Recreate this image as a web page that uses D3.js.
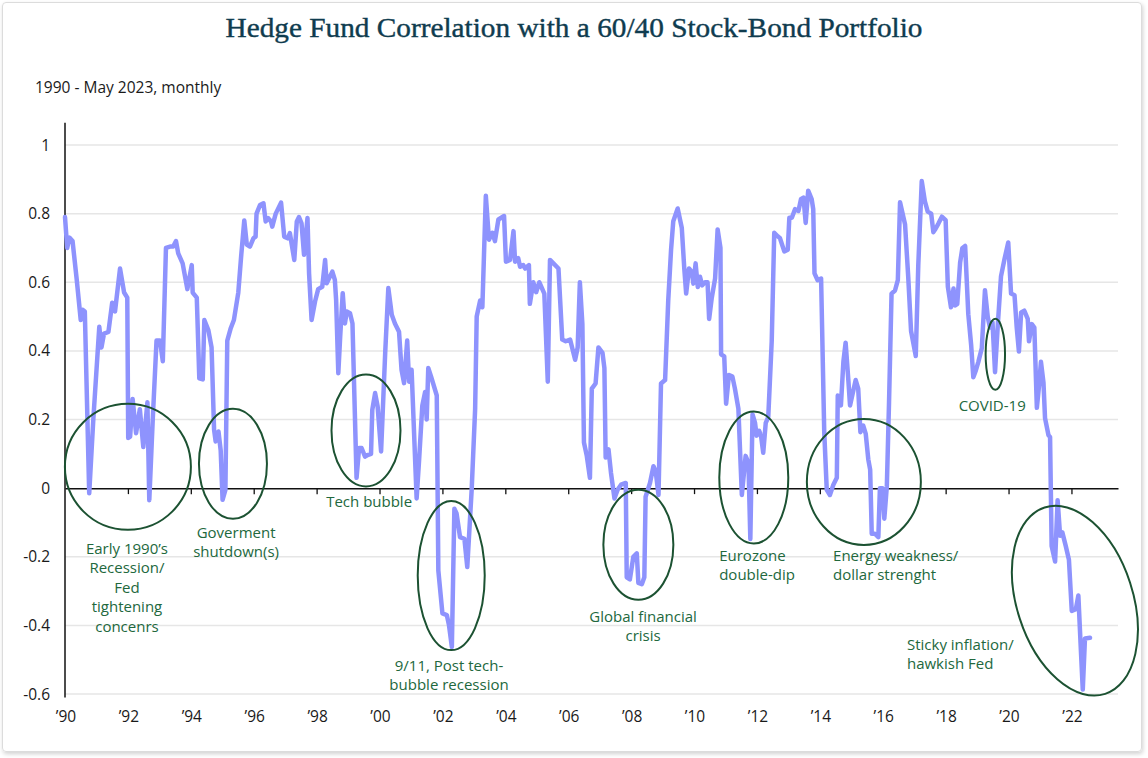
<!DOCTYPE html>
<html lang="en">
<head>
	<meta charset="utf-8">
	<title>Hedge Fund Correlation with a 60/40 Stock-Bond Portfolio</title>
	<script src='https://d3js.org/d3.v7.min.js'></script>
	<style>
	body {
		margin: 0;
		background: #ffffff;
	}
	#card {
		position: absolute;
		left: 2px;
		top: 2px;
		width: 1138px;
		height: 748px;
		border: 1px solid #dcdcdc;
		border-radius: 4px;
		box-shadow: 1px 2px 4px rgba(0,0,0,0.18);
	}
	svg {
		position: absolute;
		left: 0;
		top: 0;
	}
	</style>
</head>
<body>
	<div id="card"></div>
	<div id="chart"></div>
	<script>
		// Dates as decimal years (monthly series)
		const dates = [
			1990.00, 1990.07, 1990.14, 1990.24, 1990.37, 1990.50, 1990.56, 1990.63, 1990.77, 1990.90,
			1991.09, 1991.16, 1991.24, 1991.38, 1991.50, 1991.59, 1991.75, 1991.88, 1991.98, 1992.01,
			1992.07, 1992.15, 1992.26, 1992.38, 1992.49, 1992.62, 1992.68, 1992.79, 1992.91, 1993.02,
			1993.11, 1993.21, 1993.34, 1993.44, 1993.53, 1993.60, 1993.74, 1993.89, 1994.03, 1994.06,
			1994.19, 1994.27, 1994.38, 1994.43, 1994.56, 1994.66, 1994.74, 1994.79, 1994.88, 1994.95,
			1995.01, 1995.10, 1995.16, 1995.27, 1995.37, 1995.51, 1995.60, 1995.70, 1995.78, 1995.88,
			1995.99, 1996.06, 1996.09, 1996.20, 1996.31, 1996.38, 1996.46, 1996.55, 1996.59, 1996.70,
			1996.87, 1996.97, 1997.08, 1997.15, 1997.29, 1997.37, 1997.44, 1997.52, 1997.60, 1997.71,
			1997.76, 1997.84, 1997.95, 1998.05, 1998.18, 1998.27, 1998.32, 1998.39, 1998.50, 1998.58,
			1998.62, 1998.69, 1998.75, 1998.83, 1998.90, 1998.96, 1999.06, 1999.14, 1999.27, 1999.35,
			1999.43, 1999.54, 1999.64, 1999.73, 1999.77, 1999.86, 1999.94, 2000.05, 2000.18, 2000.28,
			2000.39, 2000.49, 2000.62, 2000.70, 2000.78, 2000.88, 2000.94, 2001.02, 2001.18, 2001.26,
			2001.36, 2001.45, 2001.50, 2001.55, 2001.64, 2001.82, 2001.87, 2002.00, 2002.14, 2002.21,
			2002.30, 2002.38, 2002.45, 2002.56, 2002.70, 2002.79, 2002.93, 2003.04, 2003.09, 2003.20,
			2003.27, 2003.38, 2003.48, 2003.59, 2003.67, 2003.78, 2003.96, 2004.02, 2004.15, 2004.26,
			2004.31, 2004.41, 2004.47, 2004.57, 2004.63, 2004.75, 2004.78, 2004.89, 2004.98, 2005.08,
			2005.24, 2005.35, 2005.42, 2005.53, 2005.69, 2005.81, 2005.92, 2006.06, 2006.22, 2006.30,
			2006.37, 2006.45, 2006.50, 2006.59, 2006.69, 2006.75, 2006.87, 2006.96, 2007.09, 2007.15,
			2007.19, 2007.28, 2007.36, 2007.47, 2007.57, 2007.68, 2007.83, 2007.86, 2007.96, 2008.07,
			2008.18, 2008.23, 2008.34, 2008.42, 2008.46, 2008.60, 2008.71, 2008.78, 2008.87, 2008.95,
			2009.08, 2009.18, 2009.27, 2009.34, 2009.48, 2009.61, 2009.69, 2009.75, 2009.84, 2009.93,
			2009.98, 2010.05, 2010.12, 2010.19, 2010.26, 2010.35, 2010.43, 2010.48, 2010.56, 2010.67,
			2010.75, 2010.84, 2010.86, 2010.96, 2011.02, 2011.11, 2011.22, 2011.30, 2011.41, 2011.52,
			2011.64, 2011.73, 2011.79, 2011.86, 2011.94, 2011.99, 2012.07, 2012.13, 2012.20, 2012.28,
			2012.36, 2012.47, 2012.55, 2012.66, 2012.73, 2012.87, 2012.98, 2013.03, 2013.11, 2013.21,
			2013.32, 2013.40, 2013.48, 2013.55, 2013.63, 2013.74, 2013.79, 2013.83, 2013.93, 2014.04,
			2014.14, 2014.22, 2014.32, 2014.43, 2014.54, 2014.57, 2014.67, 2014.75, 2014.82, 2014.91,
			2014.96, 2015.03, 2015.14, 2015.22, 2015.29, 2015.38, 2015.46, 2015.54, 2015.60, 2015.65,
			2015.75, 2015.86, 2015.91, 2015.99, 2016.05, 2016.13, 2016.20, 2016.28, 2016.39, 2016.48,
			2016.55, 2016.71, 2016.81, 2016.90, 2017.05, 2017.13, 2017.24, 2017.34, 2017.43, 2017.54,
			2017.61, 2017.68, 2017.77, 2017.88, 2018.00, 2018.07, 2018.17, 2018.25, 2018.30, 2018.37,
			2018.46, 2018.53, 2018.62, 2018.72, 2018.81, 2018.88, 2018.96, 2019.04, 2019.15, 2019.25,
			2019.34, 2019.41, 2019.49, 2019.57, 2019.66, 2019.76, 2019.87, 2019.99, 2020.08, 2020.19,
			2020.26, 2020.33, 2020.40, 2020.50, 2020.61, 2020.65, 2020.74, 2020.82, 2020.90, 2020.97,
			2021.03, 2021.11, 2021.16, 2021.27, 2021.32, 2021.37, 2021.48, 2021.56, 2021.64, 2021.71,
			2021.82, 2021.92, 2022.01, 2022.14, 2022.22, 2022.29, 2022.36, 2022.43, 2022.59
		];
		// Correlation values matching the dates above
		const correlation = [
			0.79, 0.70, 0.73, 0.72, 0.61, 0.49, 0.52, 0.515, -0.015, 0.20,
			0.47, 0.41, 0.45, 0.455, 0.54, 0.515, 0.64, 0.57, 0.555, 0.146,
			0.15, 0.26, 0.16, 0.23, 0.12, 0.25, -0.035, 0.20, 0.43, 0.43,
			0.37, 0.70, 0.704, 0.704, 0.72, 0.684, 0.655, 0.58, 0.65, 0.57,
			0.555, 0.32, 0.317, 0.49, 0.46, 0.41, 0.17, 0.136, 0.165, 0.11,
			-0.034, -0.005, 0.43, 0.466, 0.49, 0.57, 0.675, 0.78, 0.71, 0.704,
			0.728, 0.733, 0.80, 0.825, 0.83, 0.777, 0.787, 0.777, 0.762, 0.80,
			0.832, 0.733, 0.728, 0.743, 0.665, 0.777, 0.79, 0.772, 0.68, 0.787,
			0.626, 0.49, 0.544, 0.58, 0.587, 0.665, 0.597, 0.61, 0.631, 0.607,
			0.549, 0.335, 0.442, 0.568, 0.48, 0.515, 0.51, 0.48, 0.03, 0.117,
			0.117, 0.092, 0.097, 0.10, 0.228, 0.277, 0.238, 0.107, 0.393, 0.583,
			0.505, 0.48, 0.456, 0.345, 0.306, 0.43, 0.31, 0.345, -0.03, 0.084,
			0.24, 0.28, 0.20, 0.35, 0.325, 0.27, -0.24, -0.365, -0.37, -0.40,
			-0.463, -0.06, -0.074, -0.143, -0.148, -0.23, -0.005, 0.23, 0.50, 0.547,
			0.527, 0.852, 0.724, 0.744, 0.72, 0.783, 0.793, 0.66, 0.665, 0.749,
			0.66, 0.67, 0.645, 0.65, 0.64, 0.65, 0.537, 0.60, 0.571, 0.60,
			0.567, 0.31, 0.665, 0.655, 0.64, 0.433, 0.428, 0.433, 0.374, 0.41,
			0.60, 0.478, 0.133, 0.094, 0.03, 0.29, 0.305, 0.41, 0.394, 0.35,
			0.089, 0.113, 0.044, -0.03, -0.005, 0.01, 0.015, -0.26, -0.266, -0.20,
			-0.19, -0.276, -0.28, -0.26, -0.025, 0.015, 0.064, 0.05, -0.02, 0.305,
			0.315, 0.547, 0.695, 0.778, 0.815, 0.759, 0.64, 0.567, 0.64, 0.63,
			0.596, 0.655, 0.586, 0.616, 0.591, 0.60, 0.60, 0.493, 0.552, 0.611,
			0.754, 0.70, 0.39, 0.384, 0.246, 0.33, 0.325, 0.29, 0.232, -0.02,
			0.094, 0.074, -0.148, 0.215, 0.19, 0.153, 0.167, 0.153, 0.103, 0.19,
			0.207, 0.428, 0.744, 0.734, 0.729, 0.69, 0.695, 0.788, 0.788, 0.813,
			0.808, 0.842, 0.847, 0.773, 0.867, 0.842, 0.813, 0.626, 0.606, 0.611,
			0.163, -0.005, -0.02, 0.01, 0.03, 0.27, 0.241, 0.37, 0.424, 0.31,
			0.241, 0.27, 0.315, 0.29, 0.163, 0.182, 0.158, 0.084, 0.054, -0.133,
			-0.133, -0.143, 0.0, 0.0, -0.089, 0.005, 0.25, 0.567, 0.576, 0.606,
			0.833, 0.768, 0.616, 0.458, 0.385, 0.65, 0.895, 0.836, 0.806, 0.80,
			0.746, 0.756, 0.771, 0.791, 0.781, 0.587, 0.527, 0.582, 0.532, 0.537,
			0.657, 0.699, 0.706, 0.507, 0.418, 0.323, 0.343, 0.368, 0.408, 0.577,
			0.498, 0.468, 0.483, 0.338, 0.478, 0.617, 0.667, 0.716, 0.567, 0.562,
			0.468, 0.398, 0.512, 0.517, 0.493, 0.428, 0.478, 0.468, 0.234, 0.299,
			0.368, 0.308, 0.204, 0.154, 0.149, -0.169, -0.214, -0.035, -0.139, -0.129,
			-0.169, -0.209, -0.358, -0.353, -0.313, -0.453, -0.587, -0.438, -0.436
		];
		// Axis ticks
		const yTicks = [1, 0.8, 0.6, 0.4, 0.2, 0, -0.2, -0.4, -0.6];
		const yTickLabels = ["1", "0.8", "0.6", "0.4", "0.2", "0", "-0.2", "-0.4", "-0.6"];
		const xTicks = [1990, 1992, 1994, 1996, 1998, 2000, 2002, 2004, 2006, 2008, 2010, 2012, 2014, 2016, 2018, 2020, 2022];
		const xTickLabels = ["\u201990", "\u201992", "\u201994", "\u201996", "\u201998", "\u201900", "\u201902", "\u201904", "\u201906",
			"\u201908", "\u201910", "\u201912", "\u201914", "\u201916", "\u201918", "\u201920", "\u201922"];
		// Event annotations: label lines, and where the circle sits (year, correlation)
		const eventLabels = [
			["Early 1990\u2019s", "Recession/", "Fed", "tightening", "concenrs"],
			["Goverment", "shutdown(s)"],
			["Tech bubble"],
			["9/11, Post tech-", "bubble recession"],
			["Global financial", "crisis"],
			["Eurozone", "double-dip"],
			["Energy weakness/", "dollar strenght"],
			["COVID-19"],
			["Sticky inflation/", "hawkish Fed"]
		];
		const eventYears = [1992.0, 1995.34, 1999.57, 2002.28, 2008.23, 2011.9, 2015.4, 2019.58, 2022.11];
		const eventLevels = [0.062, 0.071, 0.168, -0.255, -0.165, 0.031, 0.018, 0.39, -0.328];

		// Layout of the annotations (pixel sizes + label anchor in data units)
		let circleShape = [
			{rx: 63, ry: 63, rot: 0},
			{rx: 34, ry: 55, rot: 0},
			{rx: 34.5, ry: 56, rot: 0},
			{rx: 33.5, ry: 74.5, rot: 0},
			{rx: 35, ry: 55, rot: 0},
			{rx: 34.5, ry: 66, rot: 0},
			{rx: 57, ry: 63, rot: 0},
			{rx: 9.7, ry: 35.5, rot: 0},
			{rx: 98, ry: 58, rot: 72}
		];
		let labelPlace = [
			{x: 1991.97, y: -0.191, anchor: "middle"},
			{x: 1995.44, y: -0.145, anchor: "middle"},
			{x: 1999.67, y: -0.055, anchor: "middle"},
			{x: 2002.21, y: -0.532, anchor: "middle"},
			{x: 2008.38, y: -0.39, anchor: "middle"},
			{x: 2010.80, y: -0.212, anchor: "start"},
			{x: 2014.42, y: -0.212, anchor: "start"},
			{x: 2019.48, y: 0.225, anchor: "middle"},
			{x: 2016.77, y: -0.471, anchor: "start"}
		];

		let xSize = 1148;
		let ySize = 758;
		let svg = d3.select("#chart")
					.append("svg")
					.attr("width", xSize)
					.attr("height", ySize);

		// Scales
		let x = d3.scaleLinear()
					.domain([1990, 2023.48])
					.range([65, 1118]);
		let y = d3.scaleLinear()
					.domain([-0.6, 1])
					.range([694, 145]);

		// Title and subtitle
		svg.append("text")
			.attr("x", 574)
			.attr("y", 37)
			.attr("text-anchor", "middle")
			.attr("textLength", 697)
			.attr("lengthAdjust", "spacingAndGlyphs")
			.style("font-family", "'Liberation Serif', 'DejaVu Serif', serif")
			.style("font-size", "28px")
			.style("fill", "#0f3c4f")
			.style("stroke", "#0f3c4f")
			.style("stroke-width", 0.4)
			.text("Hedge Fund Correlation with a 60/40 Stock-Bond Portfolio");
		svg.append("text")
			.attr("x", 35)
			.attr("y", 93)
			.style("font-family", "'Open Sans', sans-serif")
			.style("font-size", "15.5px")
			.style("fill", "#1a1a1a")
			.text("1990 - May 2023, monthly");

		// Gridlines (all except the zero line)
		svg.append("g")
			.selectAll("line")
			.data(yTicks.filter(d => d !== 0))
			.enter()
			.append("line")
			.attr("x1", x(1990))
			.attr("x2", x.range()[1])
			.attr("y1", d => y(d))
			.attr("y2", d => y(d))
			.attr("stroke", "#e6e6e6")
			.attr("stroke-width", 1.5);

		// Y axis labels
		svg.append("g")
			.selectAll("text")
			.data(yTicks)
			.enter()
			.append("text")
			.attr("x", 50)
			.attr("y", d => y(d))
			.attr("dy", "0.36em")
			.attr("text-anchor", "end")
			.style("font-family", "'Open Sans', sans-serif")
			.style("font-size", "15.5px")
			.style("fill", "#1a1a1a")
			.text((d, i) => yTickLabels[i]);

		// X axis on the zero line, ticks only; labels go at the bottom
		let xAxis = d3.axisBottom(x)
					.tickValues(xTicks.slice(1))
					.tickSize(6)
					.tickSizeOuter(0)
					.tickFormat("");
		let xAxisG = svg.append("g")
					.attr("transform", "translate(0," + y(0) + ")")
					.call(xAxis);
		xAxisG.select(".domain").attr("stroke", "#111").attr("stroke-width", 1.5);
		xAxisG.selectAll(".tick line").attr("stroke", "#111").attr("stroke-width", 1.3);

		svg.append("g")
			.selectAll("text")
			.data(xTicks)
			.enter()
			.append("text")
			.attr("x", d => x(d) + 1)
			.attr("y", 722)
			.attr("text-anchor", "middle")
			.style("font-family", "'Open Sans', sans-serif")
			.style("font-size", "15.5px")
			.style("fill", "#1a1a1a")
			.text((d, i) => xTickLabels[i]);

		// Y axis line
		svg.append("line")
			.attr("x1", x(1990))
			.attr("x2", x(1990))
			.attr("y1", y(1.065))
			.attr("y2", y(-0.61))
			.attr("stroke", "#111")
			.attr("stroke-width", 1.5);

		// Correlation line
		let series = dates.map((d, i) => ({x: d, y: correlation[i]}));
		svg.append("path")
			.datum(series)
			.attr("fill", "none")
			.attr("stroke", "#8e93fd")
			.attr("stroke-width", 4.5)
			.attr("stroke-linejoin", "round")
			.attr("stroke-linecap", "round")
			.attr("d", d3.line()
				.x(function(d) { return x(d.x) })
				.y(function(d) { return y(d.y) })
			);

		// Event circles
		svg.append("g")
			.selectAll("ellipse")
			.data(eventYears)
			.enter()
			.append("ellipse")
			.attr("transform", (d, i) => "translate(" + x(d) + "," + y(eventLevels[i]) + ") rotate(" + circleShape[i].rot + ")")
			.attr("rx", (d, i) => circleShape[i].rx)
			.attr("ry", (d, i) => circleShape[i].ry)
			.attr("fill", "none")
			.attr("stroke", "#1c5232")
			.attr("stroke-width", 2);

		// Event labels
		let labelGroup = svg.append("g")
					.selectAll("text")
					.data(eventLabels)
					.enter()
					.append("text")
					.attr("x", (d, i) => x(labelPlace[i].x))
					.attr("y", (d, i) => y(labelPlace[i].y))
					.attr("text-anchor", (d, i) => labelPlace[i].anchor)
					.style("font-family", "'Open Sans', sans-serif")
					.style("font-size", "15px")
					.style("fill", "#22683d");
		labelGroup.selectAll("tspan")
			.data(d => d)
			.enter()
			.append("tspan")
			.attr("x", function() { return d3.select(this.parentNode).attr("x") })
			.attr("dy", (d, i) => i === 0 ? 0 : 19.5)
			.text(d => d);
	</script>
</body>
</html>
